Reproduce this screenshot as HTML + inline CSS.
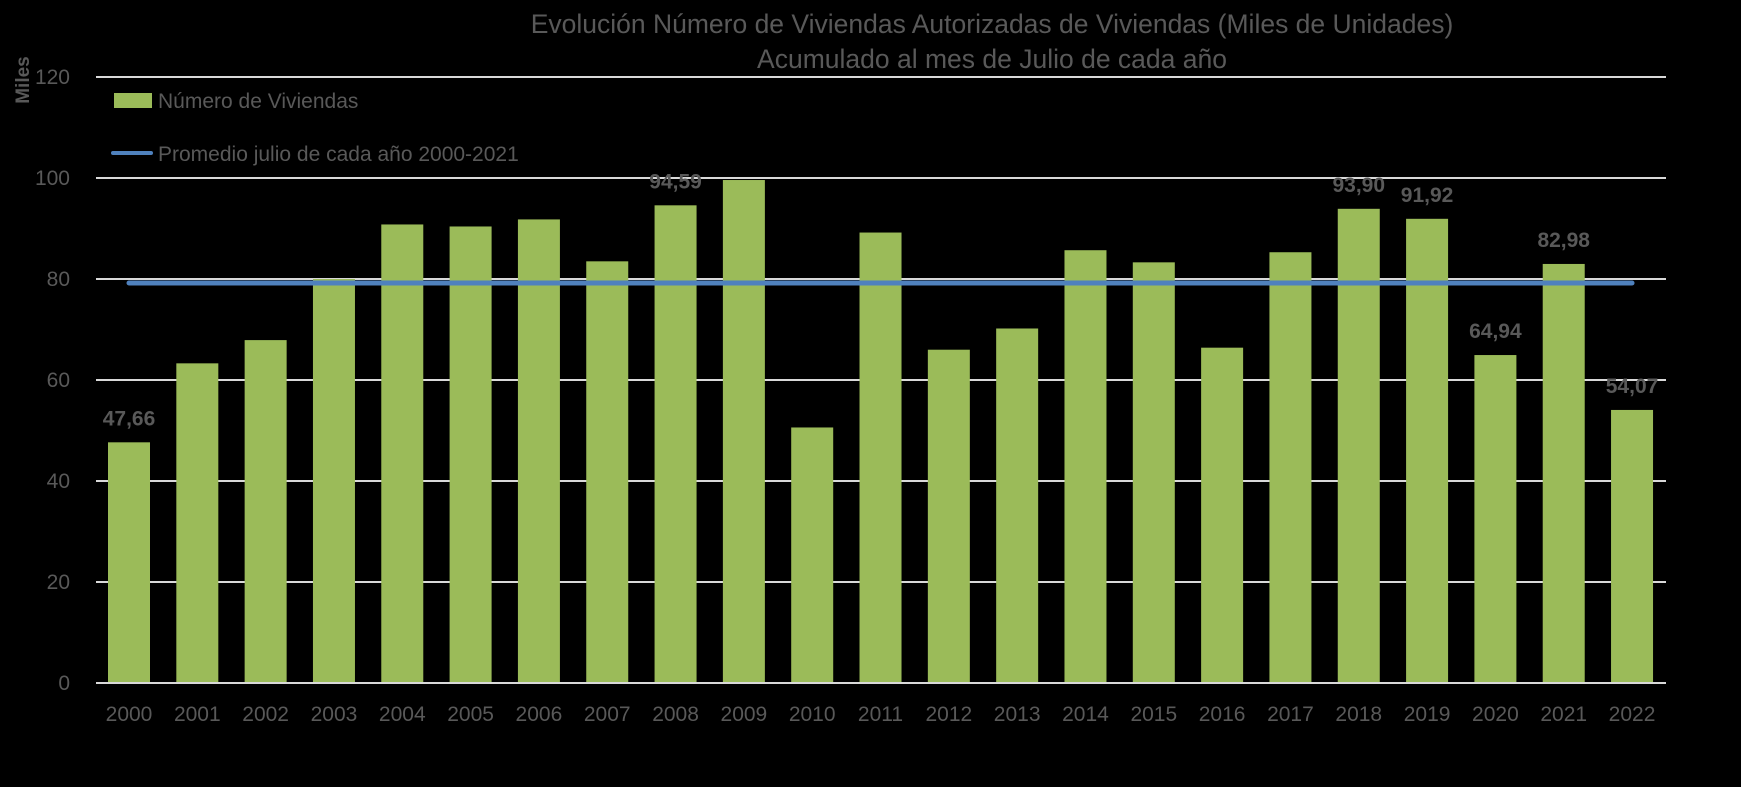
<!DOCTYPE html>
<html><head><meta charset="utf-8"><style>
body{margin:0;background:#000;}
svg{display:block;font-family:"Liberation Sans",sans-serif;}
</style></head><body>
<svg id="chart" width="1741" height="787">
<rect width="1741" height="787" fill="#000"/>
<text x="992" y="33" text-anchor="middle" fill="#595959" font-size="26.5">Evolución Número de Viviendas Autorizadas de Viviendas (Miles de Unidades)</text>
<text x="992" y="68" text-anchor="middle" fill="#595959" font-size="26.5">Acumulado al mes de Julio  de cada año</text>
<text transform="translate(29,80) rotate(-90)" text-anchor="middle" fill="#595959" font-size="19" font-weight="bold">Miles</text>
<g id="grid"></g><g id="bars"></g><g id="labels"></g><g id="avg"></g>
<g>
<rect x="114" y="93" width="38" height="15" fill="#9bbb59"/>
<text x="158" y="108" fill="#595959" font-size="21">Número de Viviendas</text>
<line x1="113" y1="153" x2="151" y2="153" stroke="#4f81bd" stroke-width="4" stroke-linecap="round"/>
<text x="158" y="161" fill="#595959" font-size="21">Promedio julio de cada año 2000-2021</text>
</g>
</svg>
<script>
const years=["2000","2001","2002","2003","2004","2005","2006","2007","2008","2009","2010","2011","2012","2013","2014","2015","2016","2017","2018","2019","2020","2021","2022"];
const values=[47.66,63.3,67.9,80.0,90.8,90.4,91.8,83.5,94.59,99.6,50.6,89.2,66.0,70.2,85.7,83.3,66.4,85.3,93.90,91.92,64.94,82.98,54.07];
const shownLabels=["47,66",null,null,null,null,null,null,null,"94,59",null,null,null,null,null,null,null,null,null,"93,90","91,92","64,94","82,98","54,07"];
const yTicks=[0,20,40,60,80,100,120];
const average=79.2;
const NS="http://www.w3.org/2000/svg";
const y=v=>683-v*5.05;
const x=i=>129+i*68.32;
function mk(tag,attrs,parent){const e=document.createElementNS(NS,tag);for(const k in attrs)e.setAttribute(k,attrs[k]);document.getElementById(parent).appendChild(e);return e;}
yTicks.forEach(t=>{
  const l=mk('line',{x1:96,x2:1666,y1:y(t),y2:y(t),stroke:'#d9d9d9','stroke-width':2},'grid');
  
  
  const tx=mk('text',{x:70,y:y(t)+7,'text-anchor':'end',fill:'#595959','font-size':21},'grid');
  tx.textContent=t;
  
  
});
years.forEach((yr,i)=>{
  const b=mk('rect',{x:x(i)-21,y:y(values[i]),width:42,height:y(0)-y(values[i])-1,fill:'#9bbb59'},'bars');
  
  
  const t=mk('text',{x:x(i),y:721,'text-anchor':'middle',fill:'#595959','font-size':21},'labels');
  t.textContent=yr;
  
  
  if(shownLabels[i]){
    const d=mk('text',{x:x(i),y:y(values[i])-17,'text-anchor':'middle',fill:'#595959','font-size':21,'font-weight':'bold'},'labels');
    d.textContent=shownLabels[i];
    
    
  }
});
const a=mk('line',{x1:x(0),x2:x(years.length-1),y1:y(average),y2:y(average),stroke:'#4f81bd','stroke-width':5,'stroke-linecap':'round'},'avg');


</script>
</body></html>
